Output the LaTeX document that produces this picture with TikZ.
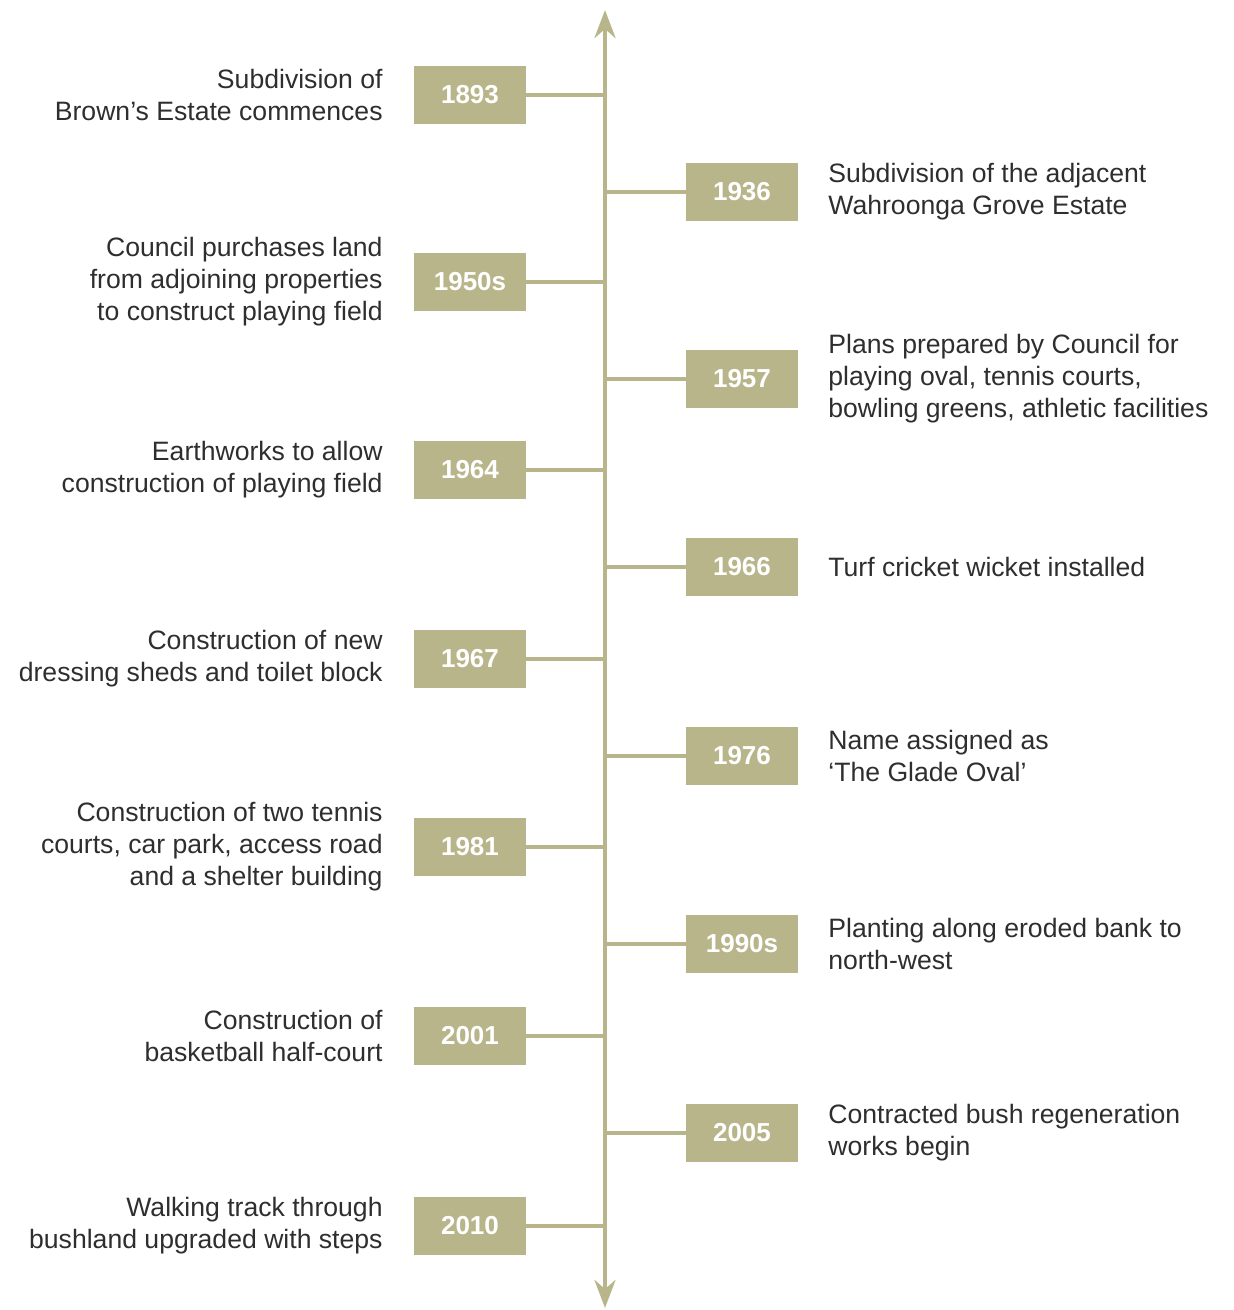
\documentclass[tikz,border=0pt]{standalone}
\usepackage{fontspec}
\setmainfont{Liberation Sans}
\usepackage{tikz}
\usetikzlibrary{positioning,arrows.meta}
\definecolor{khaki}{HTML}{B8B58B}
\definecolor{darktext}{HTML}{2E2E2E}

\begin{document}
\begin{tikzpicture}[x=1pt,y=1pt,
  yearbox/.style={rectangle, fill=khaki, minimum width=112pt, minimum height=58pt,
    inner sep=0pt, text=white, font=\fontsize{26}{30}\selectfont\bfseries},
  leftdesc/.style={inner sep=0pt, text=darktext, align=right, anchor=east,
    font=\fontsize{26.6}{32}\selectfont},
  rightdesc/.style={inner sep=0pt, text=darktext, align=left, anchor=west,
    font=\fontsize{26.6}{32}\selectfont},
  link/.style={draw=khaki, line width=4pt},
  axis/.style={draw=khaki, line width=4.5pt, {Stealth[length=28pt,width=21pt]}-{Stealth[length=28pt,width=21pt]}},
  node distance=31pt
]
\useasboundingbox (0,0) rectangle (1234,-1310);
\coordinate (axtop) at (605,-10);
\coordinate (axbot) at (605,-1308);
\draw[axis] (axtop) -- (axbot);
% left side
\node[yearbox] (y1893) at (470,-95) {1893};
\node[yearbox] (y1950) at (470,-282) {1950s};
\node[yearbox] (y1964) at (470,-470) {1964};
\node[yearbox] (y1967) at (470,-659) {1967};
\node[yearbox] (y1981) at (470,-847) {1981};
\node[yearbox] (y2001) at (470,-1036) {2001};
\node[yearbox] (y2010) at (470,-1226) {2010};
% right side
\node[yearbox] (y1936) at (742,-192) {1936};
\node[yearbox] (y1957) at (742,-379) {1957};
\node[yearbox] (y1966) at (742,-567) {1966};
\node[yearbox] (y1976) at (742,-756) {1976};
\node[yearbox] (y1990) at (742,-944) {1990s};
\node[yearbox] (y2005) at (742,-1133) {2005};
% descriptions
\node[leftdesc,left=of y1893] (d1893) {Subdivision of\\Brown’s Estate commences};
\node[leftdesc,left=of y1950] (d1950) {Council purchases land\\from adjoining properties\\to construct playing field};
\node[leftdesc,left=of y1964] (d1964) {Earthworks to allow\\construction of playing field};
\node[leftdesc,left=of y1967] (d1967) {Construction of new\\dressing sheds and toilet block};
\node[leftdesc,left=of y1981] (d1981) {Construction of two tennis\\courts, car park, access road\\and a shelter building};
\node[leftdesc,left=of y2001] (d2001) {Construction of\\basketball half-court};
\node[leftdesc,left=of y2010] (d2010) {Walking track through\\bushland upgraded with steps};
\node[rightdesc,right=30pt of y1936] (d1936) {Subdivision of the adjacent\\Wahroonga Grove Estate};
\node[rightdesc,right=30pt of y1957] (d1957) {Plans prepared by Council for\\playing oval, tennis courts,\\bowling greens, athletic facilities};
\node[rightdesc,right=30pt of y1966] (d1966) {Turf cricket wicket installed};
\node[rightdesc,right=30pt of y1976] (d1976) {Name assigned as\\‘The Glade Oval’};
\node[rightdesc,right=30pt of y1990] (d1990) {Planting along eroded bank to\\north-west};
\node[rightdesc,right=30pt of y2005] (d2005) {Contracted bush regeneration\\works begin};
% connectors
\draw[link] (y1893.east) -- (y1893.east -| axtop);
\draw[link] (y1950.east) -- (y1950.east -| axtop);
\draw[link] (y1964.east) -- (y1964.east -| axtop);
\draw[link] (y1967.east) -- (y1967.east -| axtop);
\draw[link] (y1981.east) -- (y1981.east -| axtop);
\draw[link] (y2001.east) -- (y2001.east -| axtop);
\draw[link] (y2010.east) -- (y2010.east -| axtop);
\draw[link] (y1936.west) -- (y1936.west -| axtop);
\draw[link] (y1957.west) -- (y1957.west -| axtop);
\draw[link] (y1966.west) -- (y1966.west -| axtop);
\draw[link] (y1976.west) -- (y1976.west -| axtop);
\draw[link] (y1990.west) -- (y1990.west -| axtop);
\draw[link] (y2005.west) -- (y2005.west -| axtop);
\end{tikzpicture}
\end{document}
